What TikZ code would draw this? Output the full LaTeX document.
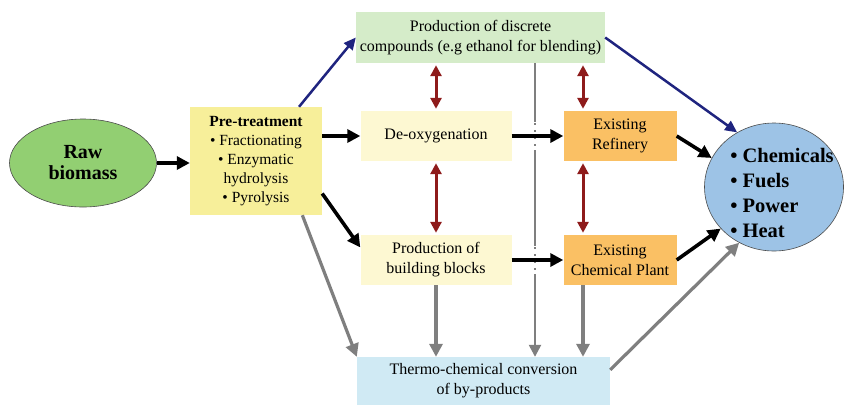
\documentclass[tikz,border=0pt]{standalone}
\usepackage{fontspec}
\setmainfont{Liberation Serif}
\usepackage{xcolor}
\usetikzlibrary{arrows.meta,positioning,shapes.geometric,calc}

\definecolor{rawgreen}{HTML}{92CF72}
\definecolor{pregold}{HTML}{F7EF9A}
\definecolor{palegreen}{HTML}{D5ECC9}
\definecolor{paleyellow}{HTML}{FDF8D2}
\definecolor{plantorange}{HTML}{FAC064}
\definecolor{paleblue}{HTML}{D0EAF4}
\definecolor{prodblue}{HTML}{9DC3E6}
\definecolor{navy}{HTML}{1F247F}
\definecolor{darkred}{HTML}{8E1B1B}
\definecolor{midgrey}{HTML}{7F7F7F}

\begin{document}
\begin{tikzpicture}[
  x=1pt, y=-1pt,
  box/.style={inner sep=2pt, align=center,
              font=\fontsize{16}{20}\selectfont},
  blob/.style={ellipse, draw=black!70, line width=0.6pt, inner sep=0pt},
  prodtext/.style={align=left, inner sep=0pt,
                   font=\bfseries\fontsize{20.5}{25}\selectfont},
  mainflow/.style={-{Triangle[length=13pt,width=13pt]}, line width=3.6pt, draw=black},
  greyflow/.style={-{Triangle[length=13pt,width=13pt]}, line width=3.2pt, draw=midgrey},
  spineflow/.style={-{Triangle[length=12pt,width=12pt]}, line width=2.4pt, draw=midgrey},
  navyflow/.style={-{Triangle[length=12pt,width=11pt]}, line width=2.5pt, draw=navy},
  exchange/.style={{Triangle[length=11pt,width=11pt]}-{Triangle[length=11pt,width=11pt]},
                   line width=3pt, draw=darkred, shorten <=2pt, shorten >=2pt},
  gapdots/.style={draw=midgrey, line width=2.2pt, dash pattern=on 2pt off 5pt}
]
\useasboundingbox (0,0) rectangle (845,405);

% ==================== Nodes ====================
\node[blob, fill=rawgreen, minimum width=147pt, minimum height=88pt,
      align=center, font=\bfseries\fontsize{20}{21}\selectfont]
  (raw) at (83,163) {Raw\\biomass};

\node[box, fill=pregold, minimum width=132pt, minimum height=108pt,
      font=\fontsize{15.5}{19}\selectfont]
  (pre) at (256,161)
  {\textbf{Pre-treatment}\\• Fractionating\\• Enzymatic\\hydrolysis\\• Pyrolysis};

\node[box, fill=palegreen, minimum width=249pt, minimum height=51pt]
  (discrete) at (480.5,37.5)
  {Production of discrete\\compounds (e.g ethanol for blending)};

\node[box, fill=paleyellow, minimum width=151pt, minimum height=50pt]
  (deoxy) at (436,136) {De-oxygenation};
\node[box, fill=paleyellow, minimum width=151pt, minimum height=50pt]
  (blocks) at (436,260) {Production of\\building blocks};

\node[box, fill=plantorange, minimum width=113pt, minimum height=50pt]
  (refinery) at (620,136) {Existing\\Refinery};
\node[box, fill=plantorange, minimum width=113pt, minimum height=50pt]
  (chemplant) at (620,260) {Existing\\Chemical Plant};

\node[box, fill=paleblue, minimum width=253pt, minimum height=48pt]
  (thermo) at (483.5,381) {Thermo-chemical conversion\\of by-products};

\node[blob, fill=prodblue, minimum width=139pt, minimum height=128pt,
      label={[prodtext, xshift=8pt, yshift=-6pt]center:{• Chemicals\\• Fuels\\• Power\\• Heat}}]
  (products) at (774,187) {};

\coordinate (spine) at (535,0);
\coordinate (plantcol) at (583,0);

% ==================== Grey by-product lines ====================
\draw[spineflow] (spine |- discrete.south) -- (spine |- thermo.north);
\foreach \row in {deoxy, blocks} {
  \fill[white] ($(spine |- \row)+(-3,-14)$) rectangle ($(spine |- \row)+(3,14)$);
  \draw[gapdots] ($(spine |- \row)+(0,-13)$) -- ($(spine |- \row)+(0,13)$);
}
\draw[greyflow] (blocks.south) -- (blocks.south |- thermo.north);
\draw[greyflow] (plantcol |- chemplant.south) -- (plantcol |- thermo.north);
\draw[greyflow] ($(pre.south)!0.7!(pre.south east)$) -- (thermo.north west);
\draw[greyflow] ($(thermo.north east)+(0,13)$) -- (products.238);

% ==================== Main flow ====================
\draw[mainflow] (raw.east) -- (raw.east -| pre.west);
\draw[mainflow] (pre.east |- deoxy) -- (deoxy);
\draw[mainflow] ($(pre.north east)!0.8!(pre.south east)$)
  -- ($(blocks.north west)!0.25!(blocks.south west)$);
\draw[mainflow] (deoxy) -- (refinery);
\draw[mainflow] (blocks) -- (chemplant);
\draw[mainflow] (refinery.east) -- (products.155);
\draw[mainflow] (chemplant.east) -- (products.218);

% ==================== Discrete compounds route ====================
\draw[navyflow] ($(pre.north)!0.65!(pre.north east)$) -- (discrete.west);
\draw[navyflow] (discrete.east) -- (products.124);

% ==================== Exchanges ====================
\draw[exchange] (deoxy.north |- discrete.south) -- (deoxy.north);
\draw[exchange] (deoxy.south) -- (blocks.north);
\draw[exchange] (plantcol |- discrete.south) -- (plantcol |- refinery.north);
\draw[exchange] (plantcol |- refinery.south) -- (plantcol |- chemplant.north);

\end{tikzpicture}
\end{document}
